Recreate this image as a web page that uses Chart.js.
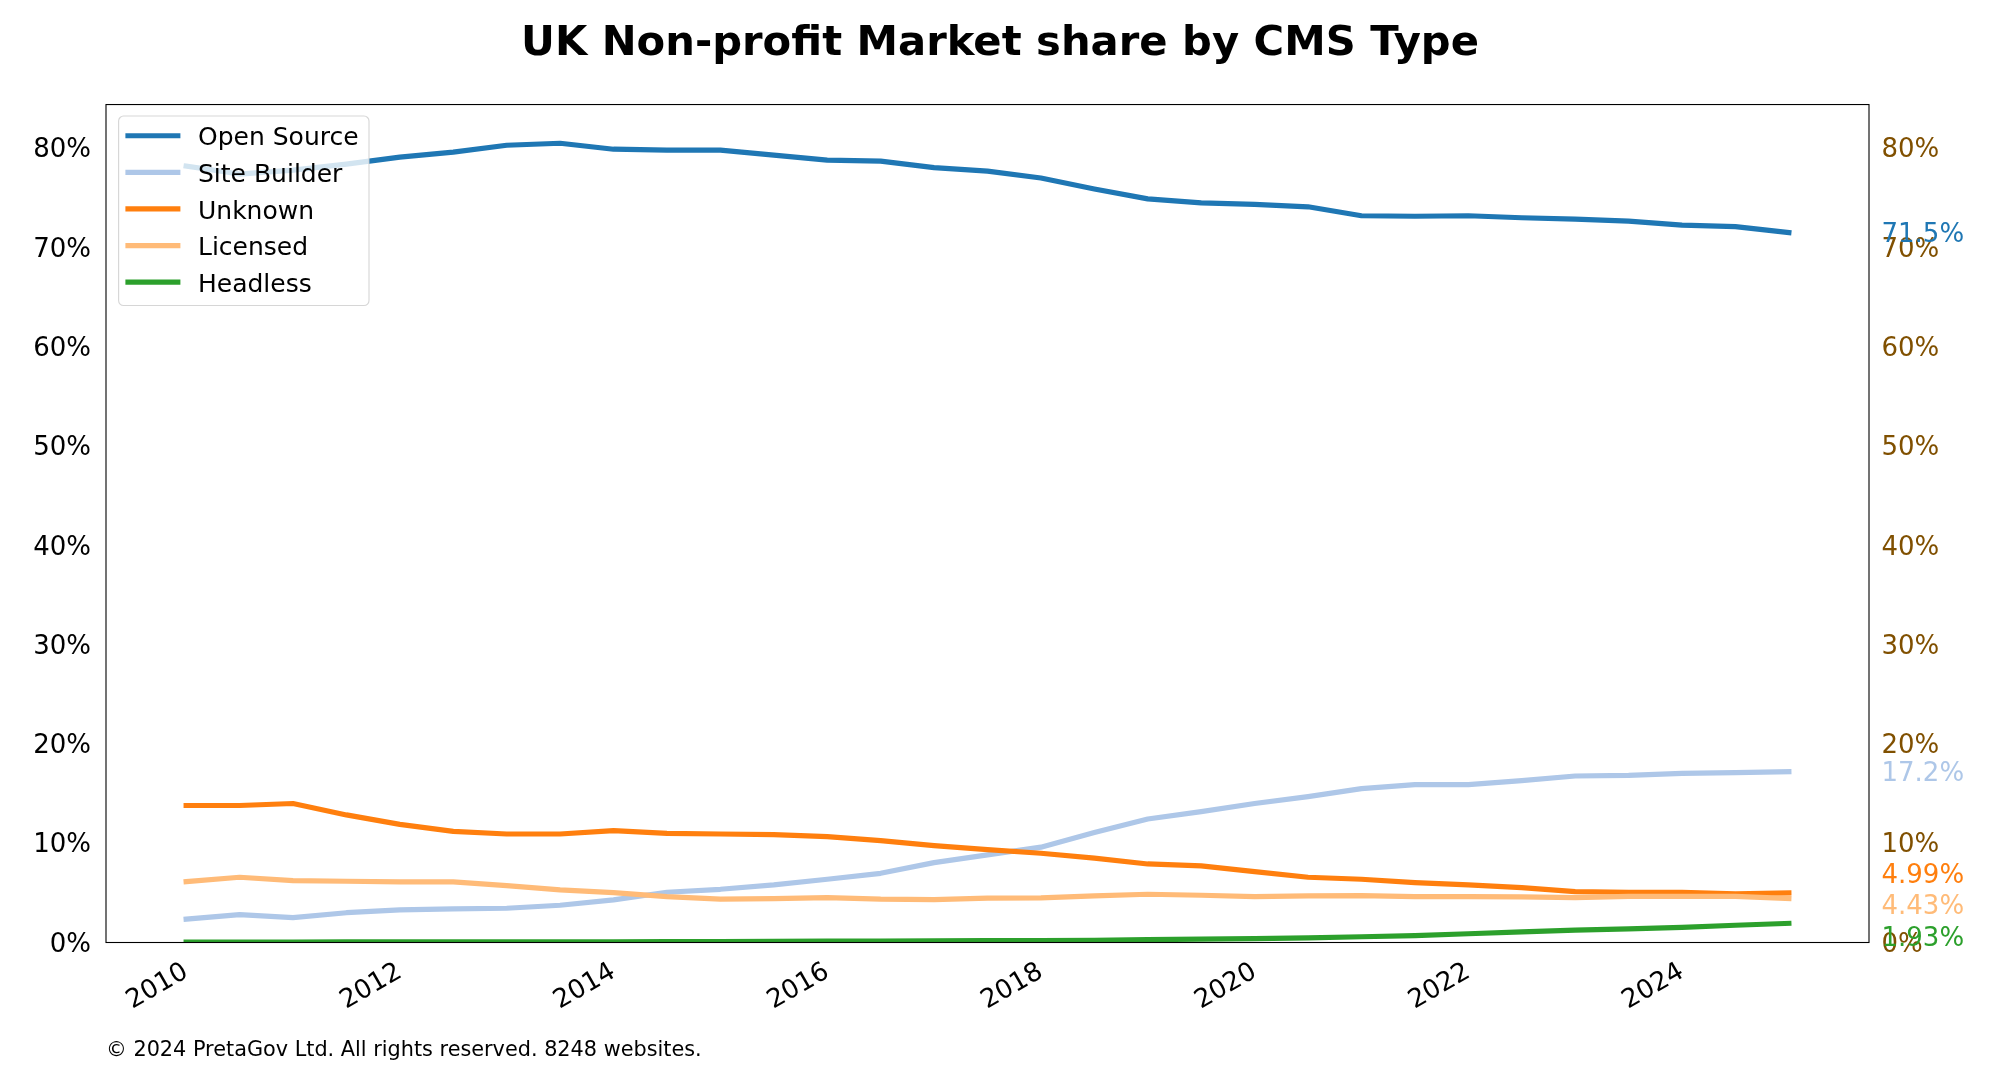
<!DOCTYPE html>
<html>
<head>
<meta charset="utf-8">
<script src="https://cdn.jsdelivr.net/npm/chart.js@4/dist/chart.umd.min.js"></script>
<style>
  html, body { margin: 0; padding: 0; background: #fff; }
  #wrap { width: 2000px; height: 1090px; position: relative; }
</style>
</head>
<body>
<div id="wrap"><canvas id="c" width="2000" height="1090"></canvas></div>
<script>
// ---- Data ----
const periods = [2010, 2010.5, 2011, 2011.5, 2012, 2012.5, 2013, 2013.5, 2014, 2014.5,
                 2015, 2015.5, 2016, 2016.5, 2017, 2017.5, 2018, 2018.5, 2019, 2019.5,
                 2020, 2020.5, 2021, 2021.5, 2022, 2022.5, 2023, 2023.5, 2024, 2024.5, 2025];
const seriesNames = ["Open Source", "Site Builder", "Unknown", "Licensed", "Headless"];
const openSource = [78.2, 77.4, 77.8, 78.4, 79.1, 79.6, 80.3, 80.5, 79.9, 79.8,
                    79.8, 79.3, 78.8, 78.7, 78.05, 77.7, 77.0, 75.9, 74.9, 74.5,
                    74.35, 74.1, 73.2, 73.15, 73.2, 73.0, 72.85, 72.65, 72.25, 72.1, 71.5];
const siteBuilder = [2.35, 2.8, 2.5, 3.0, 3.28, 3.38, 3.45, 3.75, 4.29, 5.06,
                     5.36, 5.8, 6.37, 6.97, 8.05, 8.82, 9.6, 11.07, 12.44, 13.18,
                     14.0, 14.7, 15.5, 15.9, 15.9, 16.3, 16.77, 16.84, 17.04, 17.1, 17.2];
const unknown = [13.8, 13.8, 14.0, 12.85, 11.9, 11.2, 10.93, 10.93, 11.27, 11.0,
                 10.93, 10.86, 10.66, 10.26, 9.76, 9.36, 8.99, 8.49, 7.91, 7.71,
                 7.14, 6.57, 6.37, 6.03, 5.8, 5.53, 5.13, 5.06, 5.06, 4.89, 4.99];
const licensed = [6.13, 6.57, 6.23, 6.17, 6.1, 6.1, 5.73, 5.3, 5.03, 4.62,
                  4.36, 4.42, 4.52, 4.36, 4.32, 4.46, 4.5, 4.69, 4.86, 4.76,
                  4.62, 4.69, 4.72, 4.62, 4.62, 4.59, 4.52, 4.65, 4.65, 4.65, 4.43];
const headless = [0.05, 0.05, 0.05, 0.06, 0.06, 0.06, 0.06, 0.07, 0.07, 0.09,
                  0.1, 0.12, 0.13, 0.15, 0.17, 0.18, 0.2, 0.22, 0.28, 0.33,
                  0.4, 0.47, 0.58, 0.7, 0.88, 1.08, 1.25, 1.38, 1.53, 1.74, 1.93];
const xTicks = [2010, 2012, 2014, 2016, 2018, 2020, 2022, 2024];
const yTicks = [0, 10, 20, 30, 40, 50, 60, 70, 80];
const titleText = "UK Non-profit Market share by CMS Type";
const footerText = "\u00A9 2024 PretaGov Ltd. All rights reserved. 8248 websites.";

// ---- Styles ----
const colors = ["#1f77b4", "#aec7e8", "#ff7f0e", "#ffbb78", "#2ca02c"];
const rightTickColor = "#805000";
const FONT = '"DejaVu Sans", "Liberation Sans", sans-serif';
const LW = 5.2;
const seriesValues = [openSource, siteBuilder, unknown, licensed, headless];

const datasets = seriesNames.map((name, i) => ({
  label: name,
  data: periods.map((x, k) => ({ x: x, y: seriesValues[i][k] })),
  borderColor: colors[i],
  backgroundColor: colors[i],
  borderWidth: LW,
  pointRadius: 0,
  pointHoverRadius: 0,
  tension: 0,
  borderCapStyle: 'square',
  borderJoinStyle: 'round',
  fill: false,
  yAxisID: 'y',
  order: seriesNames.length - i
}));

const deco = {
  id: 'deco',
  afterDraw(chart) {
    const ctx = chart.ctx, a = chart.chartArea, ys = chart.scales.y;
    ctx.save();
    // frame
    ctx.strokeStyle = '#000';
    ctx.lineWidth = 1.1;
    ctx.strokeRect(a.left, a.top, a.right - a.left, a.bottom - a.top);

    // end-value labels on the right, spread apart so they do not overlap
    const items = chart.data.datasets.map(ds => {
      const v = ds.data[ds.data.length - 1].y;
      return { text: v.toPrecision(3) + '%', color: ds.borderColor, y: ys.getPixelForValue(v) };
    });
    const sorted = items.slice().sort((p, q) => p.y - q.y);
    const gap = 31.2, maxY = a.bottom - 1;
    for (let it = 0; it < 600; it++) {
      for (let i = 0; i < sorted.length - 1; i++) {
        const d = sorted[i + 1].y - sorted[i].y;
        if (d < gap) { const s = (gap - d) / 2; sorted[i].y -= s; sorted[i + 1].y += s; }
      }
      sorted.forEach(o => { if (o.y > maxY) o.y = maxY; });
    }
    ctx.font = '26px ' + FONT;
    ctx.textAlign = 'left';
    ctx.textBaseline = 'alphabetic';
    items.forEach(o => {
      ctx.fillStyle = o.color;
      ctx.fillText(o.text, a.right + 12.5, o.y + 9.5);
    });

    // legend
    const lx = a.left + 12.6, ly = a.top + 11.5, lw = 250.4, lh = 189.5;
    ctx.beginPath();
    ctx.roundRect(lx, ly, lw, lh, 5);
    ctx.fillStyle = 'rgba(255,255,255,0.8)';
    ctx.fill();
    ctx.strokeStyle = 'rgba(204,204,204,0.8)';
    ctx.lineWidth = 1.1;
    ctx.stroke();
    ctx.font = '25px ' + FONT;
    ctx.textBaseline = 'alphabetic';
    chart.data.datasets.forEach((ds, i) => {
      const cy = ly + 19.7 + i * 36.6;
      ctx.strokeStyle = ds.borderColor;
      ctx.lineWidth = LW;
      ctx.lineCap = 'butt';
      ctx.beginPath();
      ctx.moveTo(lx + 6.8, cy);
      ctx.lineTo(lx + 61.8, cy);
      ctx.stroke();
      ctx.fillStyle = '#000';
      ctx.fillText(ds.label, lx + 79.4, cy + 9.6);
    });

    // footer
    ctx.font = '20.8px ' + FONT;
    ctx.fillStyle = '#000';
    ctx.textAlign = 'left';
    ctx.textBaseline = 'alphabetic';
    ctx.fillText(footerText, a.left, 1056);
    ctx.restore();
  }
};

Chart.defaults.font.family = FONT;
Chart.defaults.color = '#000';

new Chart(document.getElementById('c'), {
  type: 'line',
  data: { datasets: datasets },
  options: {
    responsive: false,
    maintainAspectRatio: false,
    devicePixelRatio: 1,
    animation: false,
    events: [],
    layout: { padding: { left: 0, right: 0, top: 0, bottom: 0 } },
    plugins: {
      legend: { display: false },
      tooltip: { enabled: false },
      title: {
        display: true,
        text: titleText,
        color: '#000',
        font: { size: 41.7, weight: 'bold', family: FONT, lineHeight: 1.2 },
        padding: { top: 19, bottom: 35.5 }
      }
    },
    scales: {
      x: {
        type: 'linear',
        min: 2009.25,
        max: 2025.75,
        afterBuildTicks: s => { s.ticks = xTicks.map(v => ({ value: v })); },
        afterFit: s => { s.height = 147.5; },
        grid: { display: false, drawTicks: false },
        border: { display: false },
        ticks: {
          autoSkip: false,
          maxRotation: 30,
          minRotation: 30,
          padding: 14,
          color: '#000',
          font: { size: 26, family: FONT },
          callback: v => String(v)
        }
      },
      y: {
        type: 'linear',
        position: 'left',
        min: 0,
        max: 84.4,
        afterBuildTicks: s => { s.ticks = yTicks.map(v => ({ value: v })); },
        afterFit: s => { s.width = 106; },
        grid: { display: false, drawTicks: false },
        border: { display: false },
        ticks: {
          padding: 15,
          labelOffset: 2.5,
          color: '#000',
          font: { size: 26, family: FONT },
          callback: v => v + '%'
        }
      },
      y2: {
        type: 'linear',
        position: 'right',
        min: 0,
        max: 84.4,
        afterBuildTicks: s => { s.ticks = yTicks.map(v => ({ value: v })); },
        afterFit: s => { s.width = 131; },
        grid: { display: false, drawTicks: false },
        border: { display: false },
        ticks: {
          padding: 12.5,
          labelOffset: 2.5,
          color: rightTickColor,
          font: { size: 26, family: FONT },
          callback: v => v + '%'
        }
      }
    }
  },
  plugins: [deco]
});
</script>
</body>
</html>
